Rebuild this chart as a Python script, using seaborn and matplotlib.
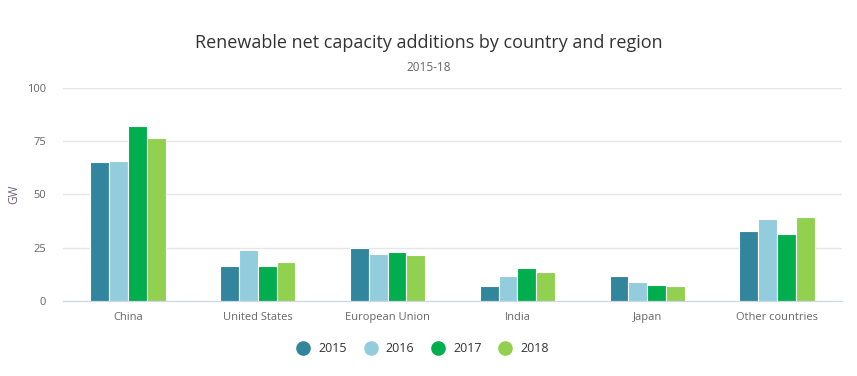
import pandas as pd
import matplotlib.pyplot as plt
import seaborn as sns
from matplotlib.lines import Line2D

regions = ['China', 'United States', 'European Union', 'India', 'Japan', 'Other countries']
years = ['2015', '2016', '2017', '2018']
gw_2015 = [65.4, 16.4, 24.9, 7.0, 11.7, 32.9]
gw_2016 = [65.7, 23.9, 22.1, 11.7, 8.9, 38.5]
gw_2017 = [82.3, 16.4, 23.0, 15.5, 7.5, 31.5]
gw_2018 = [76.5, 18.3, 21.6, 13.6, 7.0, 39.4]
colors = ['#31859c', '#93cddd', '#00ae4d', '#92d050']

df = pd.DataFrame({'region': regions * 4,
                   'year': [y for y in years for _ in regions],
                   'gw': gw_2015 + gw_2016 + gw_2017 + gw_2018})

sns.set_style('white')
plt.rcParams['font.family'] = ['Open Sans', 'DejaVu Sans']

fig = plt.figure(figsize=(8.57, 3.76), dpi=100)
ax = fig.add_axes([0.0735, 0.1995, 0.909, 0.5665])

sns.barplot(data=df, x='region', y='gw', hue='year', palette=colors, saturation=1,
            width=0.58, edgecolor='white', linewidth=0.8, ax=ax, legend=False)

ax.set_ylim(0, 100)
ax.set_xlim(-0.5, 5.5)
ax.set_yticks([0, 25, 50, 75, 100])
ax.yaxis.grid(True, color='#e6e6e6', linewidth=1)
ax.set_axisbelow(True)
for s in ['top', 'right', 'left']:
    ax.spines[s].set_visible(False)
ax.spines['bottom'].set_color('#ccd6eb')
ax.tick_params(axis='both', length=0, labelsize=8, colors='#666666')
ax.tick_params(axis='x', pad=8)
ax.tick_params(axis='y', pad=12)
ax.set_xlabel('')
ax.set_ylabel('GW', fontsize=8.5, color='#6e6479')
ax.yaxis.set_label_coords(-0.055, 0.5)

fig.text(0.5, 0.885, 'Renewable net capacity additions by country and region',
         ha='center', va='center', fontsize=13, color='#333333')
fig.text(0.5, 0.82, '2015-18', ha='center', va='center', fontsize=8.5, color='#666666')

handles = [Line2D([], [], marker='o', linestyle='', markersize=9.5,
                  markerfacecolor=c, markeredgecolor=c) for c in colors]
fig.legend(handles, years, loc='center', bbox_to_anchor=(0.49, 0.072), ncol=4,
           frameon=False, fontsize=9, handletextpad=0.2, columnspacing=0.9,
           labelcolor='#333333')

fig.savefig('out.png', dpi=100)
